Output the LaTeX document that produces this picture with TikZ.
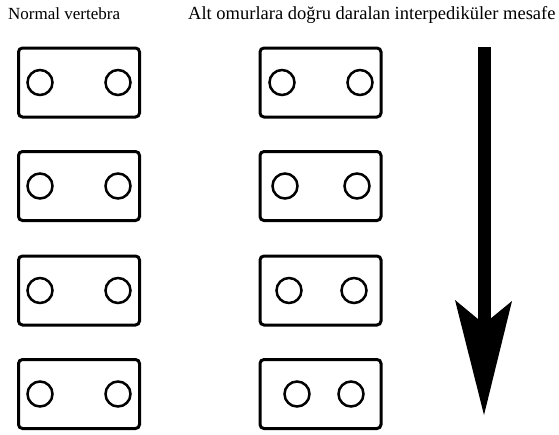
\documentclass[tikz,border=0pt]{standalone}
\usepackage{fontspec}
\setmainfont{Liberation Serif}
\begin{document}
\begin{tikzpicture}[x=1pt,y=-1pt,
  vbox/.style={draw, line width=3pt, rounded corners=4pt, minimum width=121pt, minimum height=69pt, inner sep=0pt},
  hole/.style={draw, circle, line width=2.5pt, minimum size=25pt, inner sep=0pt},
  lbl/.style={anchor=base west, inner sep=0pt, font=\fontsize{17}{20}\selectfont}]
\useasboundingbox (0,0) rectangle (559,434);
\node[lbl] (t1) at (8,19) {Normal vertebra};
\node[lbl, font=\fontsize{18.5}{22}\selectfont] (t2) at (188,19) {Alt omurlara doğru daralan interpediküler mesafe};
% left column
\foreach \i/\y in {1/82.5,2/186,3/290.5,4/394}{
  \node[vbox] (L\i) at (79,\y) {};
  \node[hole] (La\i) at (40,\y) {};
  \node[hole] (Lb\i) at (118,\y) {};
}
% right column
\foreach \i/\y/\a/\b in {1/82.5/282/360,2/186/285/357,3/290.5/289/354,4/394/297/351}{
  \node[vbox] (R\i) at (320.5,\y) {};
  \node[hole] (Ra\i) at (\a,\y) {};
  \node[hole] (Rb\i) at (\b,\y) {};
}
% arrow
\coordinate (atop) at (484,47);
\coordinate (anotch) at (484,324);
\coordinate (atip) at (484,415);
\coordinate (barbL) at (455,300);
\coordinate (barbR) at (512,301);
\draw[line width=13pt] (atop) -- (anotch);
\fill (barbL) -- (atip) -- (barbR) -- (anotch) -- cycle;
\end{tikzpicture}
\end{document}
